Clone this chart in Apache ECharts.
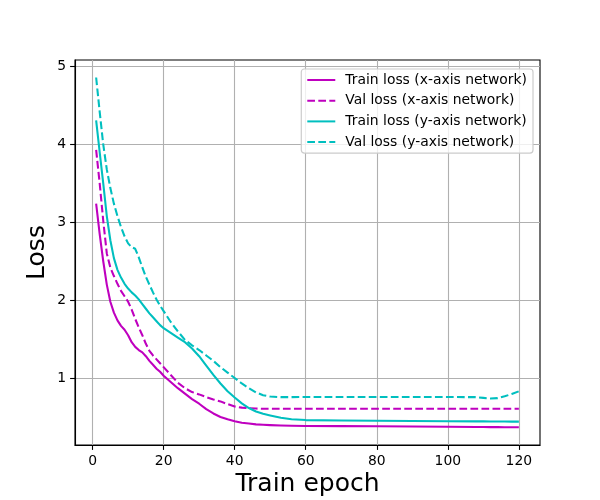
<!DOCTYPE html>
<html><head><meta charset="utf-8">
<script src="https://cdn.jsdelivr.net/npm/echarts@6/dist/echarts.min.js"></script>
<style>html,body{margin:0;padding:0;background:#fff}#c{width:600px;height:500px}</style>
</head><body><div id="c"></div>
<script>
const epochs = [1,2,3,4,5,6,7,8,9,10,11,12,13,14,15,16,17,18,19,20,
  22,24,26,28,30,32,34,36,38,40,42,44,46,48,50,
  53,56,60,70,80,90,100,108,110,112,114,116,118,120];
const trainLossX = [3.24,2.85,2.5,2.2,1.98,1.84,1.74,1.67,1.62,1.55,1.46,1.40,1.36,1.33,1.28,1.22,1.17,1.12,1.08,1.03,
  0.95,0.87,0.80,0.73,0.67,0.60,0.545,0.50,0.47,0.445,0.425,0.415,0.405,0.40,0.395,
  0.39,0.387,0.385,0.382,0.38,0.377,0.375,0.372,0.371,0.37,0.37,0.369,0.368,0.367];
const valLossX = [3.93,3.5,3.02,2.6,2.42,2.31,2.21,2.12,2.05,1.98,1.88,1.76,1.65,1.55,1.44,1.35,1.29,1.24,1.19,1.14,
  1.04,0.94,0.87,0.82,0.79,0.755,0.725,0.70,0.665,0.635,0.62,0.612,0.608,0.606,0.605,
  0.605,0.605,0.605,0.605,0.605,0.605,0.605,0.605,0.605,0.605,0.605,0.605,0.605,0.605];
const trainLossY = [4.31,3.9,3.5,3.08,2.77,2.54,2.39,2.29,2.21,2.15,2.1,2.06,2.01,1.95,1.89,1.83,1.78,1.73,1.68,1.64,
  1.58,1.52,1.46,1.38,1.28,1.16,1.04,0.93,0.83,0.75,0.675,0.615,0.57,0.54,0.52,
  0.49,0.47,0.46,0.455,0.452,0.448,0.445,0.443,0.443,0.442,0.442,0.441,0.44,0.44];
const valLossY = [4.86,4.42,4.0,3.68,3.44,3.24,3.08,2.94,2.82,2.73,2.68,2.66,2.55,2.42,2.3,2.2,2.1,2.01,1.93,1.86,
  1.72,1.60,1.49,1.42,1.36,1.29,1.22,1.14,1.07,1.0,0.93,0.87,0.815,0.78,0.762,
  0.755,0.755,0.756,0.756,0.756,0.756,0.756,0.755,0.745,0.737,0.742,0.765,0.795,0.83];
const seriesNames = ['Train loss (x-axis network)','Val loss (x-axis network)','Train loss (y-axis network)','Val loss (y-axis network)'];
const xTicks = [0,20,40,60,80,100,120];
const yTicks = [1,2,3,4,5];

const FONT = 'DejaVu Sans';
const M = '#bf00bf', C = '#00bfbf';
const DASH = [7.7, 3.33];
function pairs(v){ return epochs.map((e,i)=>[e, v[i]]); }
function mk(name, vals, color, dashed){
  return {name:name, type:'line', data:pairs(vals), symbol:'none', showSymbol:false, smooth:false,
    lineStyle:{color:color, width:2.08, type: dashed ? DASH : 'solid', cap:'butt', join:'round'}, itemStyle:{color:color},
    emphasis:{disabled:true}, clip:true, z:3};
}
const chart = echarts.init(document.getElementById('c'), null, {renderer:'canvas'});
chart.setOption({
  animation:false,
  backgroundColor:'#fff',
  grid:{left:75, right:60, top:60, bottom:55, containLabel:false, outerBoundsMode:'none',
    show:true, borderColor:'#000', borderWidth:1.1, backgroundColor:'transparent'},
  xAxis:{type:'value', min:-4.95, max:125.95,
    name:'Train epoch', nameLocation:'middle', nameGap:27, nameMoveOverlap:false,
    nameTextStyle:{fontFamily:FONT, fontSize:25, color:'#000'},
    axisLine:{show:true, onZero:false, lineStyle:{color:'#000', width:1.1}},
    axisTick:{show:true, inside:false, length:4.9, customValues:xTicks, lineStyle:{color:'#000', width:1.1}},
    axisLabel:{show:true, customValues:xTicks, fontFamily:FONT, fontSize:13.9, color:'#000', margin:9},
    splitLine:{show:true, lineStyle:{color:'#b0b0b0', width:1.1}}},
  yAxis:{type:'value', min:0.14, max:5.085,
    name:'Loss', nameLocation:'middle', nameGap:25, nameMoveOverlap:false,
    nameTextStyle:{fontFamily:FONT, fontSize:25, color:'#000'},
    axisLine:{show:true, onZero:false, lineStyle:{color:'#000', width:1.1}},
    axisTick:{show:true, inside:false, length:4.9, customValues:yTicks, lineStyle:{color:'#000', width:1.1}},
    axisLabel:{show:true, customValues:yTicks, fontFamily:FONT, fontSize:13.9, color:'#000', margin:9},
    splitLine:{show:true, lineStyle:{color:'#b0b0b0', width:1.1}}},
  legend:{show:true, orient:'vertical', right:67, top:69, data:seriesNames,
    itemWidth:28, itemHeight:14, itemGap:6.7,
    itemStyle:{opacity:0},
    backgroundColor:'rgba(255,255,255,0.8)', borderColor:'#cccccc', borderWidth:1.2, borderRadius:3,
    padding:[4,6,4,5],
    textStyle:{fontFamily:FONT, fontSize:13.9, color:'#000', padding:[0,0,0,5]}},
  series:[
    mk(seriesNames[0], trainLossX, M, false),
    mk(seriesNames[1], valLossX, M, true),
    mk(seriesNames[2], trainLossY, C, false),
    mk(seriesNames[3], valLossY, C, true)
  ]
});
</script></body></html>
